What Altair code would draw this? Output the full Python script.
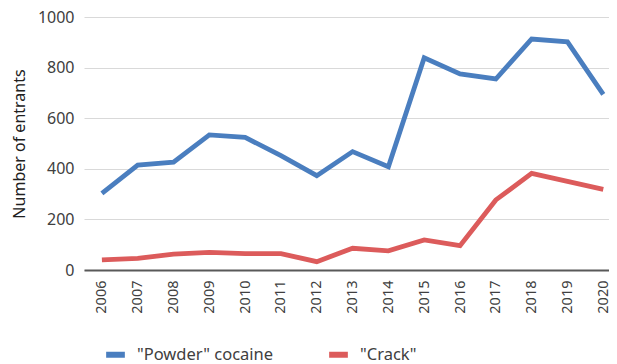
import altair as alt
import pandas as pd

years = list(range(2006, 2021))
powder = [303, 415, 426, 534, 524, 452, 373, 468, 408, 839, 775, 755, 913, 902, 694]
crack = [40, 46, 63, 70, 65, 65, 33, 86, 76, 119, 96, 277, 382, 350, 319]
series_names = ['"Powder" cocaine', '"Crack"']
series_colors = ["#4a7ebf", "#dc5b5b"]

rows = []
for i, y in enumerate(years):
    rows.append({"year": y, "series": series_names[0], "value": powder[i]})
    rows.append({"year": y, "series": series_names[1], "value": crack[i]})
df = pd.DataFrame(rows)

FONT = "Noto Sans"

chart = alt.Chart(df).mark_line(strokeWidth=4.8, strokeJoin="miter").encode(
    x=alt.X("year:Q",
            scale=alt.Scale(domain=[2005.5, 2020.16], nice=False, zero=False),
            axis=alt.Axis(title=None, values=years, format="d", labelAngle=-90, labelAlign="right",
                          labelBaseline="middle", ticks=False, labelPadding=10,
                          domainColor="#595959", domainWidth=2, labelFlush=False,
                          labelOverlap=False,
                          labelFontSize=14.5, labelColor="#404040", labelFont=FONT, grid=False)),
    y=alt.Y("value:Q", scale=alt.Scale(domain=[0, 1000], nice=False),
            axis=alt.Axis(title="Number of entrants", values=[0, 200, 400, 600, 800, 1000],
                          format="d",
                          ticks=False, domain=False, gridColor="#d9d9d9", gridWidth=1.2,
                          labelFontSize=16, labelColor="#404040", labelFont=FONT, labelPadding=10,
                          titleFont=FONT, titleFontSize=16, titleFontWeight="normal",
                          titleColor="#202020", titlePadding=10)),
    color=alt.Color("series:N", sort=series_names,
                    scale=alt.Scale(domain=series_names, range=series_colors),
                    legend=alt.Legend(title=None, orient="none", direction="horizontal",
                                      legendX=19, legendY=325, symbolType="stroke",
                                      symbolStrokeWidth=6, symbolSize=350, columnPadding=43,
                                      labelFont=FONT, labelFontSize=16.5, labelColor="#404040",
                                      labelOffset=9)),
).properties(
    width=525, height=253,
    autosize=alt.AutoSizeParams(type="none"),
    padding={"left": 76, "top": 9, "right": 0, "bottom": 94},
).configure_view(stroke=None)

chart.save("out.html", embed_options={"renderer": "svg", "actions": False})
